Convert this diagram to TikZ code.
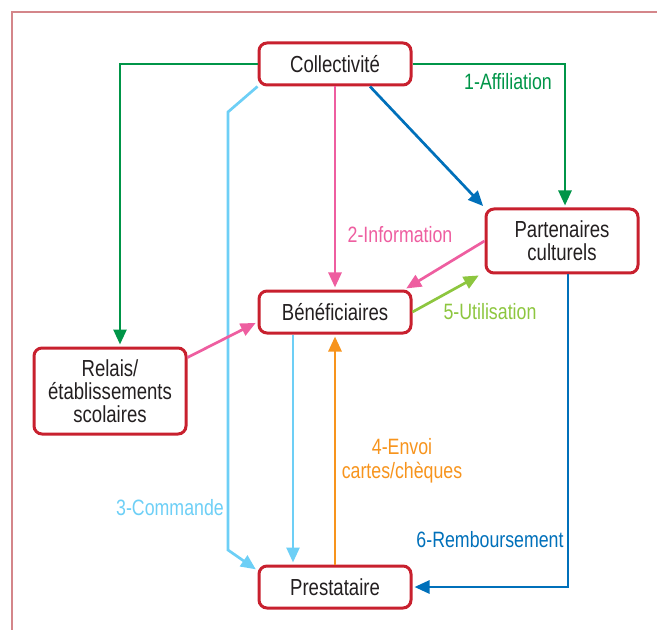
\documentclass[tikz,border=0pt]{standalone}
\usepackage{fontspec}
\setmainfont{Liberation Sans}[FakeStretch=0.8]
\usetikzlibrary{arrows.meta,positioning}
\definecolor{cadre}{RGB}{212,134,138}
\definecolor{rouge}{RGB}{200,32,46}
\definecolor{vert}{RGB}{0,149,72}
\definecolor{rose}{RGB}{238,94,160}
\definecolor{bleu}{RGB}{0,112,186}
\definecolor{ciel}{RGB}{109,207,246}
\definecolor{vertclair}{RGB}{141,198,63}
\definecolor{orangec}{RGB}{247,148,29}
\definecolor{texte}{RGB}{35,31,32}
\tikzset{
    %Define standard arrow tip
    >={Triangle[length=7.5pt,width=6.5pt]},
    %Define style for boxes
    boite/.style={
           rectangle,
           rounded corners=4pt,
           draw=rouge, line width=1.5pt,
           fill=white,
           text=texte,
           minimum width=76pt,
           minimum height=21pt,
           align=center,
           font=\fontsize{11.6}{11.6}\selectfont},
    % Define arrow style
    fleche/.style={
           ->,
           line width=1.35pt,
           shorten >=1pt},
    % Define label style
    etiq/.style={
           font=\fontsize{11.1}{11.8}\selectfont,
           align=center}
}
\begin{document}
\begin{tikzpicture}[x=0.5pt,y=-0.5pt]
         \useasboundingbox (0,0) rectangle (657,630);
         %frame
         \draw[cadre, line width=0.75pt] (12,630) -- (12,12) -- (657,12);
         %nodes
         \node[boite] (coll) at (335,64) {Collectivité};
         \node[boite, minimum height=32pt] (part) at (562,241) {Partenaires\\culturels};
         \node[boite] (benef) at (335,312) {Bénéficiaires};
         \node[boite, minimum height=43pt] (relais) at (110,391) {Relais/\\établissements\\scolaires};
         \node[boite] (prest) at (335,587) {Prestataire};
         \coordinate (cmdA) at (228,112);
         \coordinate (cmdB) at (228,550);
         %arrows
         \draw[fleche, vert] (coll.west) -| ([xshift=5pt]relais.north);
         \draw[fleche, vert] (coll.east) -| ([xshift=1.5pt]part.north);
         \draw[fleche, rose] (coll.south) -- (benef.north);
         \draw[fleche, bleu] ([xshift=17.5pt]coll.south) -- (part.north west);
         \draw[fleche, ciel] (coll.south west) -- (cmdA) -- (cmdB) -- ([yshift=-3pt]prest.north west);
         \draw[fleche, rose] (part.west) -- ([xshift=-4pt]benef.north east);
         \draw[fleche, vertclair] (benef.east) -- ([xshift=-2pt]part.south west);
         \draw[fleche, rose] ([yshift=-5.5pt]relais.north east) -- ([yshift=-5pt]benef.west);
         \draw[fleche, ciel] ([xshift=-21pt]benef.south) -- ([xshift=-21pt]prest.north);
         \draw[fleche, orangec] (prest.north) -- (benef.south);
         \draw[fleche, bleu] ([xshift=3pt]part.south) |- (prest.east);
         %labels
         \node[etiq, text=vert] (affil) at (508,82) {1-Affiliation};
         \node[etiq, text=rose] (info) at (400,235) {2-Information};
         \node[etiq, text=ciel] (cmd) at (170,508) {3-Commande};
         \node[etiq, text=orangec] (envoi) at (402,461) {4-Envoi\\cartes/chèques};
         \node[etiq, text=vertclair] (util) at (490,312) {5-Utilisation};
         \node[etiq, text=bleu] (remb) at (490,540) {6-Remboursement};
\end{tikzpicture}
\end{document}
